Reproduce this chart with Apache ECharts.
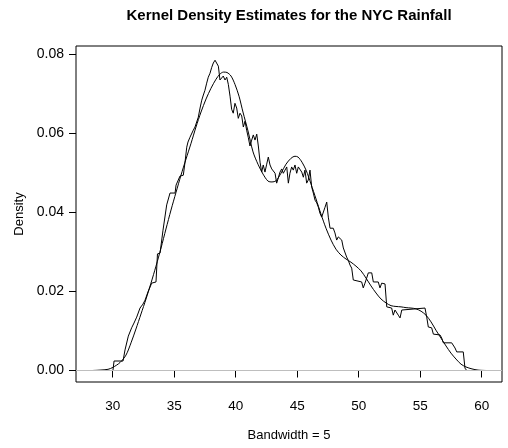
<!DOCTYPE html>
<html><head><meta charset="utf-8">
<script src="https://cdn.jsdelivr.net/npm/echarts@6/dist/echarts.min.js"></script>
<style>html,body{margin:0;padding:0;background:#fff}#c{width:508px;height:448px}</style>
</head><body><div id="c"></div>
<script>
const titleText = 'Kernel Density Estimates for the NYC Rainfall';
const xName = 'Bandwidth = 5';
const yName = 'Density';
const xTicks = [30, 35, 40, 45, 50, 55, 60];
const yTicks = [0, 0.02, 0.04, 0.06, 0.08];

// wiggly (small bandwidth) estimate
const roughX = [28.36,30.02,30.11,30.84,31.00,31.27,31.54,31.73,31.95,32.22,
32.46,32.63,32.87,33.17,33.52,33.64,33.85,34.09,34.39,34.66,
35.07,35.15,35.47,35.74,35.88,36.02,36.12,36.28,36.42,36.55,
36.69,36.96,37.10,37.24,37.37,37.50,37.64,37.77,37.91,38.05,
38.18,38.32,38.46,38.59,38.72,38.86,38.99,39.13,39.27,39.40,
39.54,39.67,39.80,39.94,40.08,40.21,40.35,40.49,40.62,40.76,
40.89,41.02,41.16,41.30,41.43,41.57,41.71,41.84,41.98,42.11,
42.24,42.38,42.52,42.65,42.79,42.93,43.06,43.20,43.33,43.46,
43.60,43.74,43.87,44.01,44.15,44.28,44.41,44.55,44.68,44.82,
44.96,45.09,45.23,45.37,45.50,45.63,45.77,45.90,46.04,46.18,
46.31,46.45,46.59,46.72,46.85,46.99,47.12,47.26,47.40,47.53,
47.67,47.80,47.93,48.07,48.21,48.34,48.48,48.62,48.75,48.89,
49.02,49.15,49.29,49.43,49.56,49.70,50.24,50.37,50.51,50.65,
50.78,51.06,51.19,51.59,51.73,51.87,52.00,52.14,52.28,52.41,
52.68,52.81,52.95,53.09,53.22,53.36,53.50,53.63,55.39,55.53,
55.66,55.80,55.93,56.07,56.61,56.75,56.88,57.56,57.83,57.97,
58.50,58.64,58.78,60.35];
const roughY = [0,0,0.0024,0.0024,0.0052,0.0087,0.0108,0.0120,0.0135,0.0158,
0.0168,0.0178,0.0199,0.0221,0.0224,0.0295,0.0297,0.0355,0.0419,0.0449,
0.0449,0.0469,0.0492,0.0494,0.0527,0.0565,0.0578,0.0590,0.0585,0.0608,
0.0616,0.0641,0.0664,0.0684,0.0697,0.0709,0.0727,0.0742,0.0752,0.0767,
0.0778,0.0785,0.0788,0.0770,0.0735,0.0730,0.0745,0.0735,0.0742,0.0724,
0.0694,0.0661,0.0651,0.0676,0.0664,0.0638,0.0651,0.0644,0.0616,0.0631,
0.0608,0.0590,0.0568,0.0583,0.0596,0.0583,0.0598,0.0568,0.0527,0.0502,
0.0520,0.0502,0.0522,0.0540,0.0520,0.0510,0.0515,0.0499,0.0474,0.0487,
0.0502,0.0510,0.0499,0.0504,0.0515,0.0474,0.0499,0.0515,0.0507,0.0520,
0.0499,0.0515,0.0520,0.0502,0.0489,0.0507,0.0474,0.0482,0.0507,0.0464,
0.0449,0.0431,0.0424,0.0413,0.0398,0.0388,0.0386,0.0413,0.0426,0.0388,
0.0360,0.0355,0.0360,0.0348,0.0330,0.0338,0.0343,0.0330,0.0310,0.0310,
0.0287,0.0279,0.0267,0.0259,0.0229,0.0224,0.0224,0.0209,0.0221,0.0234,
0.0247,0.0247,0.0224,0.0224,0.0209,0.0221,0.0224,0.0219,0.0161,0.0158,
0.0158,0.0140,0.0153,0.0158,0.0140,0.0133,0.0153,0.0158,0.0158,0.0135,
0.0110,0.0115,0.0108,0.0092,0.0090,0.0082,0.0070,0.0070,0.0057,0.0047,
0.0047,0.0006,0,0];

// smooth (large bandwidth) estimate
const smoothX = [28.36,28.97,29.62,30.02,30.59,31.08,31.49,31.89,32.30,32.71,
33.11,33.52,33.93,34.33,34.74,35.15,35.55,35.96,36.37,36.77,
37.18,37.59,37.99,38.40,38.72,39.01,39.29,39.62,39.94,40.27,
40.59,41.00,41.41,41.81,42.22,42.63,42.95,43.28,43.68,44.09,
44.50,44.82,45.07,45.39,45.72,46.12,46.53,46.93,47.34,47.75,
48.15,48.56,48.97,49.37,49.78,50.19,50.59,51.00,51.41,51.81,
52.22,52.63,53.03,53.44,53.85,54.25,54.66,55.07,55.47,55.88,
56.28,56.69,57.10,57.50,57.91,58.32,58.72,59.21,59.70,60.35];
const smoothY = [0,0.0001,0.0003,0.0008,0.0020,0.0039,0.0070,0.0105,0.0143,0.0181,
0.0221,0.0264,0.0310,0.0358,0.0406,0.0451,0.0494,0.0535,0.0575,0.0616,
0.0654,0.0687,0.0714,0.0737,0.0750,0.0755,0.0754,0.0745,0.0724,0.0694,
0.0654,0.0606,0.0553,0.0522,0.0497,0.0479,0.0477,0.0480,0.0499,0.0522,
0.0537,0.0542,0.0540,0.0527,0.0507,0.0472,0.0434,0.0396,0.0360,0.0330,
0.0307,0.0292,0.0282,0.0274,0.0264,0.0252,0.0234,0.0214,0.0196,0.0181,
0.0171,0.0164,0.0162,0.0161,0.0159,0.0158,0.0156,0.0150,0.0140,0.0123,
0.0102,0.0082,0.0062,0.0044,0.0029,0.0016,0.0009,0.0004,0.0001,0];

const zip = (xs, ys) => xs.map((x, i) => [x, ys[i]]);
const FONT = 'Liberation Sans, Arial, Helvetica, sans-serif';

const chart = echarts.init(document.getElementById('c'), null, {renderer: 'canvas'});
chart.setOption({
  animation: false,
  backgroundColor: '#fff',
  grid: {left: 76, right: 6, top: 46, bottom: 66, show: true,
         borderColor: '#000', borderWidth: 1, backgroundColor: 'transparent'},
  graphic: [{
    type: 'text', x: 289, y: 16,
    style: {text: titleText, fill: '#000', align: 'center', verticalAlign: 'middle',
            textAlign: 'center', textVerticalAlign: 'middle',
            font: 'bold 15px "Liberation Sans"'}
  }],
  xAxis: {
    type: 'value', min: 27.016, max: 61.65,
    axisLine: {show: false},
    splitLine: {show: false},
    axisTick: {show: true, length: 7, customValues: xTicks, lineStyle: {color: '#000', width: 1}},
    axisLabel: {customValues: xTicks, color: '#000', fontSize: 13.5, fontFamily: FONT, margin: 17},
    name: xName, nameLocation: 'middle', nameGap: 47,
    nameTextStyle: {color: '#000', fontSize: 13, fontFamily: FONT}
  },
  yAxis: {
    type: 'value', min: -0.00291, max: 0.0821,
    axisLine: {show: false},
    splitLine: {show: false},
    axisTick: {show: true, length: 7, customValues: yTicks, lineStyle: {color: '#000', width: 1}},
    axisLabel: {customValues: yTicks, color: '#000', fontSize: 14, fontFamily: FONT, margin: 12,
                formatter: v => v.toFixed(2)},
    name: yName, nameLocation: 'middle', nameGap: 48, nameRotate: 90,
    nameTextStyle: {color: '#000', fontSize: 13, fontFamily: FONT}
  },
  series: [
    {
      type: 'line', data: zip(roughX, roughY), showSymbol: false, symbol: 'none',
      lineStyle: {color: '#000', width: 1}, z: 3,
      markLine: {silent: true, symbol: 'none', label: {show: false},
                 lineStyle: {color: '#bebebe', width: 1, type: 'solid'},
                 data: [{yAxis: 0}]}
    },
    {
      type: 'line', data: zip(smoothX, smoothY), showSymbol: false, symbol: 'none',
      smooth: 0.3, lineStyle: {color: '#000', width: 1}, z: 3
    }
  ]
});
</script>
</body></html>
